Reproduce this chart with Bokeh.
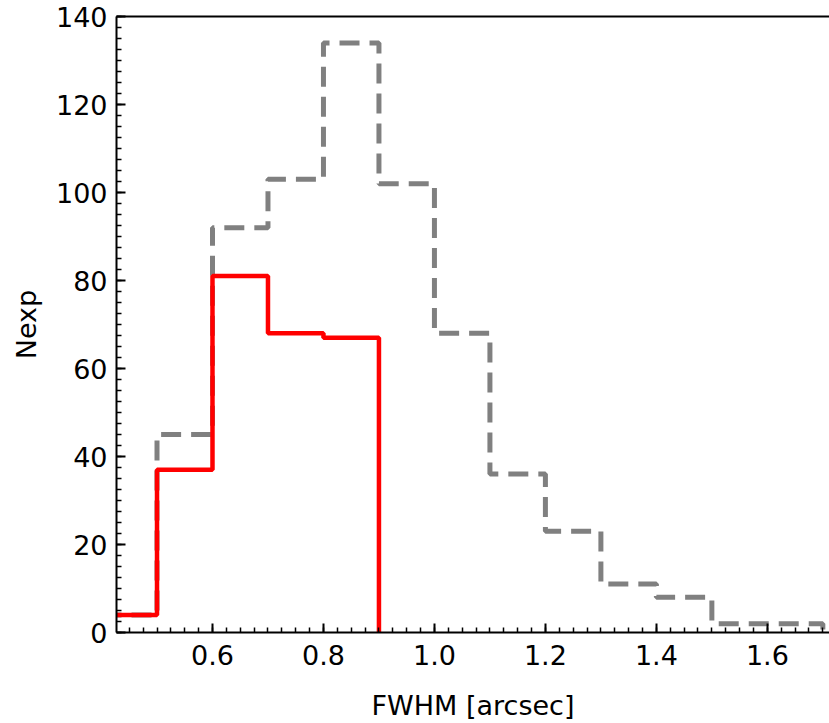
from bokeh.plotting import figure
from bokeh.models import FixedTicker, LinearAxis, Range1d, NumeralTickFormatter
from bokeh.embed import file_html
from bokeh.resources import INLINE

# Bin edges (arcsec) and counts
all_edges = [0.4, 0.5, 0.6, 0.7, 0.8, 0.9, 1.0, 1.1, 1.2, 1.3, 1.4, 1.5, 1.6, 1.7]
all_counts = [4, 45, 92, 103, 134, 102, 68, 36, 23, 11, 8, 2, 2]

sel_edges = [0.4, 0.5, 0.6, 0.7, 0.8, 0.9]
sel_counts = [4, 37, 81, 68, 67]

x_ticks = [0.6, 0.8, 1.0, 1.2, 1.4, 1.6]
y_ticks = [0, 20, 40, 60, 80, 100, 120, 140]

FONT = "DejaVu Sans"

p = figure(width=829, height=723, output_backend="svg", toolbar_location=None,
           x_range=Range1d(0.427, 1.712), y_range=Range1d(0, 140),
           min_border_left=116, min_border_right=0, min_border_top=16, min_border_bottom=91)
p.grid.visible = False
p.outline_line_color = None
p.background_fill_color = "white"
p.border_fill_color = "white"

# gray histogram (all)
gx = all_edges
gy = all_counts + [0]
p.step(gx, gy, mode="after", line_color="#808080", line_width=5, line_dash="20 10")

# red histogram (selected)
rx = sel_edges
ry = sel_counts + [0]
p.step(rx, ry, mode="after", line_color="#ff0000", line_width=4.5)

minor_x = [round(0.4 + 0.025 * i, 4) for i in range(0, 54)]
minor_y = [2.5 * i for i in range(0, 57)]

for ax in p.xaxis:
    ax.ticker = FixedTicker(ticks=x_ticks, minor_ticks=minor_x)
    ax.formatter = NumeralTickFormatter(format="0.0")
    ax.axis_label = "FWHM [arcsec]"
for ax in p.yaxis:
    ax.ticker = FixedTicker(ticks=y_ticks, minor_ticks=minor_y)
    ax.axis_label = "Nexp"

for ax in p.xaxis + p.yaxis:
    ax.axis_line_width = 2
    ax.axis_line_color = "black"
    ax.major_tick_in = 9
    ax.major_tick_out = 0
    ax.minor_tick_in = 5
    ax.minor_tick_out = 0
    ax.major_tick_line_width = 2
    ax.minor_tick_line_width = 1.5
    ax.major_label_text_font = FONT
    ax.major_label_text_font_size = "27px"
    ax.major_label_text_color = "black"
    ax.axis_label_text_font = FONT
    ax.axis_label_text_font_size = "27px"
    ax.axis_label_text_font_style = "normal"
    ax.axis_label_text_color = "black"

p.xaxis.major_label_standoff = 12
p.xaxis.axis_label_standoff = 22
p.yaxis.major_label_standoff = 9
p.yaxis.axis_label_standoff = 11

top = LinearAxis(ticker=FixedTicker(ticks=[]), major_tick_in=0, major_tick_out=0,
                 minor_tick_in=0, minor_tick_out=0, major_label_text_font_size="0px",
                 axis_line_width=2, axis_line_color="black", major_label_standoff=0)
p.add_layout(top, "above")

open("out.html", "w").write(file_html(p, INLINE))
